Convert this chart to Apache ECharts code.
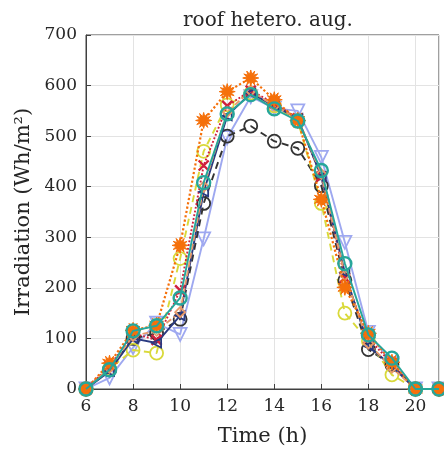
<!DOCTYPE html>
<html><head><meta charset="utf-8">
<script src="https://cdn.jsdelivr.net/npm/echarts@6/dist/echarts.min.js"></script>
<style>html,body{margin:0;padding:0;background:#fff}#c{width:444px;height:453px}</style>
</head><body><div id="c"></div>
<script>
const hours = [6,7,8,9,10,11,12,13,14,15,16,17,18,19,20,21];
const seriesBlack  = [0,38,100,110,138,367,500,520,490,476,402,215,78,48,0,0];
const seriesBlue   = [0,22,82,130,108,297,497,578,555,550,458,290,112,50,0,0];
const seriesYellow = [0,40,77,71,258,470,562,585,560,530,367,150,95,28,0,0];
const seriesRed    = [0,45,110,97,195,442,560,590,565,535,420,220,100,50,0,0];
const seriesNavy   = [0,35,100,91,145,390,540,585,560,535,420,230,85,45,0,0];
const seriesTan    = [0,42,105,115,152,400,548,590,560,535,425,225,90,42,0,0];
const seriesOrange = [0,51,116,126,284,531,588,615,572,531,375,201,110,53,0,0];
const seriesTeal   = [0,38,115,125,180,408,544,582,554,530,432,248,107,61,0,0];
const xTicks = [6,8,10,12,14,16,18,20];
const yTicks = [0,100,200,300,400,500,600,700];

function starPath(n, ro, ri){
  let d='';
  for(let i=0;i<2*n;i++){
    const r = i%2===0?ro:ri;
    const a = Math.PI*i/n - Math.PI/2;
    d += (i===0?'M':'L') + (r*Math.cos(a)+ro).toFixed(2)+','+(r*Math.sin(a)+ro).toFixed(2);
  }
  return 'path://'+d+'Z';
}
const font = '"DejaVu Serif","Liberation Serif",serif';
function pairs(arr){ return hours.map((h,i)=>[h,arr[i]]); }
function mk(name, data, color, lineType, symbol, size, opts){
  opts = opts||{};
  return {
    name, type:'line', data: pairs(data), symbol, symbolSize:size,
    symbolRotate: opts.rotate||0,
    lineStyle:{color, width:opts.lw||1.9, type:lineType},
    itemStyle:{color: opts.fill||'rgba(0,0,0,0)', borderColor: color, borderWidth: opts.bw||1.8},
    z: opts.z||2, animation:false
  };
}
const chart = echarts.init(document.getElementById('c'), null, {renderer:'canvas'});
chart.setOption({
  backgroundColor:'#fff',
  animation:false,
  title:{text:'roof hetero. aug.', left:263, top:6, textAlign:'center',
    textStyle:{fontFamily:font, fontSize:20, fontWeight:'normal', color:'#262626'}},
  grid:{left:86, right:5, top:35, bottom:64, show:true, borderColor:'#404040', borderWidth:1, backgroundColor:'transparent'},
  xAxis:{type:'value', min:6, max:21, interval:2,
    name:'Time (h)', nameLocation:'middle', nameGap:37,
    nameTextStyle:{fontFamily:font, fontSize:21, color:'#262626'},
    axisLine:{show:true, lineStyle:{color:'#404040'}},
    axisTick:{show:true, inside:true, length:5, lineStyle:{color:'#404040'}},
    axisLabel:{fontFamily:font, fontSize:17, color:'#262626', margin:9, showMaxLabel:false,
      formatter:v=> xTicks.includes(v)? String(v):''},
    splitLine:{show:true, lineStyle:{color:'#e3e3e3'}}},
  yAxis:{type:'value', min:0, max:700, interval:100,
    name:'Irradiation (Wh/m²)', nameLocation:'middle', nameGap:51,
    nameTextStyle:{fontFamily:font, fontSize:21, color:'#262626'},
    axisLine:{show:true, lineStyle:{color:'#404040'}},
    axisTick:{show:true, inside:true, length:5, lineStyle:{color:'#404040'}},
    axisLabel:{fontFamily:font, fontSize:17, color:'#262626', margin:9,
      formatter:v=> yTicks.includes(v)? String(v):''},
    splitLine:{show:true, lineStyle:{color:'#e3e3e3'}}},
  series:[
    mk('B', seriesBlue, '#9ea8f0', 'solid', 'triangle', 13, {rotate:180, z:2}),
    mk('A', seriesBlack, '#333333', [7,5], 'circle', 13, {z:3}),
    mk('C', seriesYellow, '#d9d93a', [7,5], 'circle', 13, {z:3}),
    mk('F', seriesRed, '#d0203c', 'dotted', 'path://M0,0L10,10M10,0L0,10', 10, {bw:2.4, z:4}),
    mk('G', seriesNavy, '#2a3a80', 'solid', 'triangle', 9, {rotate:90, z:4}),
    mk('H', seriesTan, '#e89a6a', [6,3], 'diamond', 10, {z:4}),
    mk('D', seriesOrange, '#f5700a', 'dotted', starPath(12,8,4), 16, {fill:'#f5700a', bw:1, z:5, lw:2.2}),
    mk('E', seriesTeal, '#26a69a', 'solid', 'circle', 13, {bw:2.4, z:6})
  ]
});
</script></body></html>
